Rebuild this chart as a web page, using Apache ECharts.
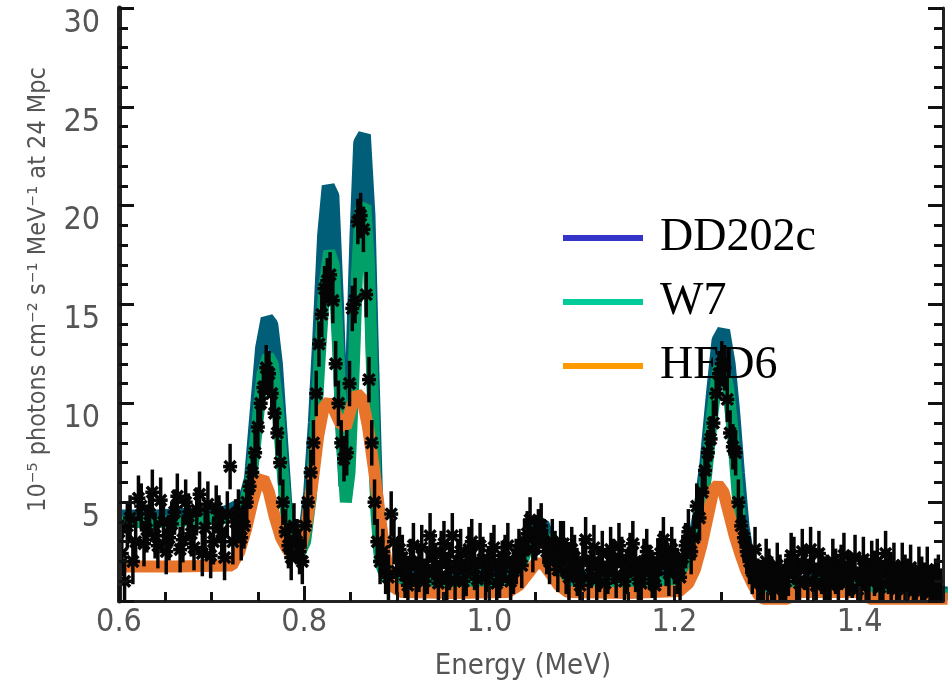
<!DOCTYPE html>
<html>
<head>
<meta charset="utf-8">
<script src="https://cdn.jsdelivr.net/npm/echarts@6/dist/echarts.min.js"></script>
<style>
  html, body { margin: 0; padding: 0; background: #fff; }
  #chart { width: 952px; height: 689px; }
</style>
</head>
<body>
<div id="chart"></div>
<script>
// model curves, [energy MeV, flux]
const dd202c = [
  [0.600, 4.3], [0.640, 4.3], [0.680, 4.4], [0.715, 4.5], [0.728, 4.8], [0.735, 5.0],
  [0.742, 6.2], [0.748, 9.5], [0.754, 12.8], [0.760, 14.3], [0.765, 14.0], [0.770, 12.0],
  [0.775, 8.5], [0.780, 5.0], [0.786, 3.2], [0.793, 2.6], [0.800, 3.2], [0.806, 5.5],
  [0.811, 9.0], [0.816, 13.5], [0.821, 18.5], [0.826, 21.0], [0.831, 20.5], [0.836, 15.0],
  [0.840, 9.5], [0.844, 5.8], [0.848, 7.0], [0.852, 12.5], [0.856, 18.5], [0.860, 23.2],
  [0.865, 23.6], [0.870, 19.5], [0.874, 12.0], [0.878, 5.5], [0.882, 2.5], [0.888, 1.5],
  [0.900, 1.2], [0.950, 1.2], [1.000, 1.3], [1.025, 1.4], [1.035, 2.2], [1.042, 3.2],
  [1.050, 3.9], [1.058, 3.9], [1.065, 3.0], [1.072, 1.8], [1.080, 1.3], [1.120, 1.2],
  [1.170, 1.2], [1.200, 1.3], [1.212, 1.8], [1.220, 2.8], [1.227, 4.5], [1.234, 7.0],
  [1.241, 10.5], [1.247, 13.2], [1.253, 13.7], [1.259, 12.0], [1.264, 9.5], [1.269, 6.5],
  [1.274, 3.8], [1.280, 2.0], [1.288, 1.0], [1.300, 0.6], [1.320, 0.6], [1.335, 0.9],
  [1.350, 1.1], [1.370, 1.2], [1.390, 1.1], [1.405, 0.7], [1.420, 0.5], [1.495, 0.4]
]

const w7 = [
  [0.600, 4.0], [0.640, 4.0], [0.680, 4.1], [0.715, 4.2], [0.728, 4.5], [0.736, 5.0],
  [0.743, 6.2], [0.749, 8.8], [0.755, 11.5], [0.761, 12.4], [0.766, 12.0], [0.771, 10.0],
  [0.776, 7.0], [0.781, 4.2], [0.787, 2.8], [0.794, 2.3], [0.801, 3.0], [0.807, 5.2],
  [0.812, 8.5], [0.817, 12.5], [0.822, 16.0], [0.827, 17.7], [0.832, 17.0], [0.837, 12.5],
  [0.841, 8.0], [0.845, 5.0], [0.849, 6.5], [0.853, 11.0], [0.857, 16.5], [0.861, 19.8],
  [0.866, 20.0], [0.870, 17.0], [0.874, 10.5], [0.878, 4.5], [0.882, 2.0], [0.888, 1.2],
  [0.900, 0.9], [0.950, 0.9], [1.000, 1.0], [1.025, 1.1], [1.035, 1.9], [1.042, 2.8],
  [1.050, 3.4], [1.058, 3.4], [1.065, 2.6], [1.072, 1.5], [1.080, 1.0], [1.120, 0.9],
  [1.170, 0.9], [1.200, 1.0], [1.212, 1.5], [1.220, 2.5], [1.227, 4.0], [1.234, 6.3],
  [1.241, 9.5], [1.247, 11.7], [1.252, 12.0], [1.258, 10.8], [1.263, 8.5], [1.268, 5.5],
  [1.273, 3.0], [1.279, 1.5], [1.287, 0.8], [1.300, 0.5], [1.320, 0.5], [1.335, 0.7],
  [1.350, 0.9], [1.370, 1.0], [1.390, 0.9], [1.405, 0.6], [1.420, 0.4], [1.495, 0.3]
]

const hed6 = [
  [0.600, 1.75], [0.660, 1.75], [0.722, 1.8], [0.730, 2.5], [0.737, 3.6], [0.744, 5.0],
  [0.750, 6.0], [0.756, 6.2], [0.762, 5.5], [0.768, 4.3], [0.775, 3.2], [0.782, 2.6],
  [0.790, 2.4], [0.797, 2.8], [0.803, 4.0], [0.809, 6.0], [0.815, 8.3], [0.821, 9.8],
  [0.827, 10.1], [0.833, 9.6], [0.839, 9.0], [0.845, 8.8], [0.851, 9.8], [0.857, 10.5],
  [0.863, 10.2], [0.869, 8.8], [0.875, 6.8], [0.881, 4.6], [0.886, 2.8], [0.891, 1.4],
  [0.897, 0.7], [0.905, 0.45], [0.960, 0.4], [1.020, 0.45], [1.032, 0.8], [1.042, 1.4],
  [1.050, 1.9], [1.058, 1.9], [1.066, 1.4], [1.075, 0.8], [1.085, 0.45], [1.150, 0.4],
  [1.205, 0.5], [1.215, 0.9], [1.222, 1.6], [1.229, 2.8], [1.236, 4.3], [1.242, 5.6],
  [1.247, 5.9], [1.253, 5.5], [1.259, 4.4], [1.265, 3.3], [1.271, 2.4], [1.277, 1.6],
  [1.284, 0.9], [1.291, 0.3], [1.296, 0.12], [1.322, 0.12], [1.330, 0.45], [1.404, 0.45],
  [1.411, 0.12], [1.495, 0.12]
]

// measured points (black stars with error bars)
const measured = [
  [0.600, 3.5], [0.603, 2.4], [0.606, 1.0], [0.609, 3.8], [0.612, 4.2], [0.615, 2.0],
  [0.618, 3.0], [0.621, 5.2], [0.624, 4.8], [0.627, 2.9], [0.630, 3.6], [0.633, 4.4],
  [0.636, 5.5], [0.639, 3.3], [0.642, 2.8], [0.645, 5.1], [0.648, 4.0], [0.651, 2.5],
  [0.654, 3.2], [0.657, 3.9], [0.660, 4.5], [0.663, 5.3], [0.666, 2.6], [0.669, 3.1],
  [0.672, 5.0], [0.675, 4.3], [0.678, 3.4], [0.681, 2.7], [0.684, 4.6], [0.687, 5.4],
  [0.690, 2.4], [0.693, 3.7], [0.696, 4.9], [0.699, 2.3], [0.702, 3.0], [0.705, 4.7],
  [0.708, 4.2], [0.711, 3.5], [0.714, 2.2], [0.717, 4.4], [0.720, 6.8], [0.723, 3.0],
  [0.726, 4.0], [0.729, 4.5], [0.732, 3.2], [0.735, 3.8], [0.738, 5.0], [0.741, 5.8],
  [0.744, 6.5], [0.747, 7.5], [0.750, 8.8], [0.753, 10.0], [0.756, 10.8], [0.759, 11.8],
  [0.762, 11.5], [0.765, 10.5], [0.768, 9.5], [0.771, 8.5], [0.774, 7.0], [0.777, 5.0],
  [0.780, 3.5], [0.783, 2.8], [0.786, 2.2], [0.789, 3.8], [0.792, 3.0], [0.795, 2.5],
  [0.798, 2.0], [0.801, 3.8], [0.804, 5.0], [0.807, 6.5], [0.810, 8.0], [0.813, 10.5],
  [0.816, 13.0], [0.819, 14.5], [0.822, 15.8], [0.825, 16.2], [0.828, 16.5], [0.831, 15.2],
  [0.834, 12.0], [0.837, 10.0], [0.840, 8.0], [0.843, 7.2], [0.846, 7.5], [0.849, 11.0],
  [0.852, 14.8], [0.855, 15.2], [0.858, 19.2], [0.861, 19.5], [0.864, 18.8], [0.867, 15.5],
  [0.870, 11.2], [0.873, 8.0], [0.876, 5.0], [0.879, 3.0], [0.882, 2.0], [0.885, 2.5],
  [0.888, 1.5], [0.891, 1.2], [0.894, 4.4], [0.897, 3.0], [0.900, 1.5], [0.903, 2.6],
  [0.906, 2.2], [0.909, 1.3], [0.912, 0.8], [0.915, 2.0], [0.918, 2.8], [0.921, 1.1],
  [0.924, 1.6], [0.927, 2.7], [0.930, 1.0], [0.933, 1.5], [0.936, 3.3], [0.939, 2.2],
  [0.942, 1.8], [0.945, 0.9], [0.948, 2.4], [0.951, 2.9], [0.954, 1.2], [0.957, 1.7],
  [0.960, 3.3], [0.963, 1.0], [0.966, 2.0], [0.969, 2.5], [0.972, 1.0], [0.975, 1.4],
  [0.978, 2.6], [0.981, 3.0], [0.984, 1.7], [0.987, 1.1], [0.990, 2.8], [0.993, 2.1],
  [0.996, 1.2], [0.999, 1.6], [1.002, 2.3], [1.005, 2.7], [1.008, 0.9], [1.011, 1.3],
  [1.014, 1.9], [1.017, 2.2], [1.020, 2.8], [1.023, 1.0], [1.026, 1.5], [1.029, 2.0],
  [1.032, 2.5], [1.035, 1.8], [1.038, 3.0], [1.041, 3.4], [1.044, 4.1], [1.047, 2.6],
  [1.050, 3.2], [1.053, 3.5], [1.056, 3.8], [1.059, 3.0], [1.062, 2.5], [1.065, 2.0],
  [1.068, 3.0], [1.071, 2.4], [1.074, 1.6], [1.077, 2.9], [1.080, 2.9], [1.083, 1.5],
  [1.086, 1.2], [1.089, 2.6], [1.092, 2.2], [1.095, 1.4], [1.098, 0.8], [1.101, 2.0],
  [1.104, 3.1], [1.107, 1.2], [1.110, 1.8], [1.113, 2.7], [1.116, 1.1], [1.119, 1.6],
  [1.122, 2.4], [1.125, 0.9], [1.128, 1.5], [1.131, 2.6], [1.134, 2.0], [1.137, 1.3],
  [1.140, 2.8], [1.143, 2.1], [1.146, 1.0], [1.149, 1.5], [1.152, 2.3], [1.155, 2.9],
  [1.158, 1.6], [1.161, 1.1], [1.164, 0.9], [1.167, 2.0], [1.170, 2.5], [1.173, 1.7],
  [1.176, 1.3], [1.179, 0.8], [1.182, 2.0], [1.185, 2.4], [1.188, 3.1], [1.191, 1.9],
  [1.194, 1.4], [1.197, 2.6], [1.200, 2.0], [1.203, 1.5], [1.206, 1.2], [1.209, 2.2],
  [1.212, 2.8], [1.215, 3.5], [1.218, 2.5], [1.221, 3.2], [1.224, 4.8], [1.227, 4.2],
  [1.230, 5.5], [1.233, 6.6], [1.236, 7.5], [1.239, 8.2], [1.242, 9.0], [1.245, 10.5],
  [1.248, 11.5], [1.251, 12.0], [1.254, 11.8], [1.257, 10.2], [1.260, 8.5], [1.263, 7.8],
  [1.266, 7.5], [1.269, 5.0], [1.272, 3.8], [1.275, 3.2], [1.278, 2.5], [1.281, 2.0],
  [1.284, 1.5], [1.287, 2.6], [1.290, 1.0], [1.293, 0.9], [1.296, 0.8], [1.299, 2.0],
  [1.302, 1.5], [1.305, 1.1], [1.308, 0.6], [1.311, 1.8], [1.314, 1.2], [1.317, 0.7],
  [1.320, 1.0], [1.323, 1.4], [1.326, 2.3], [1.329, 2.1], [1.332, 1.2], [1.335, 0.9],
  [1.338, 2.5], [1.341, 1.7], [1.344, 1.0], [1.347, 2.6], [1.350, 1.6], [1.353, 0.8],
  [1.356, 2.4], [1.359, 1.5], [1.362, 1.1], [1.365, 1.2], [1.368, 0.8], [1.371, 2.0],
  [1.374, 1.5], [1.377, 1.0], [1.380, 1.7], [1.383, 2.3], [1.386, 0.9], [1.389, 1.4],
  [1.392, 1.3], [1.395, 2.2], [1.398, 0.6], [1.401, 0.8], [1.404, 2.1], [1.407, 1.2],
  [1.410, 1.0], [1.413, 1.9], [1.416, 1.4], [1.419, 2.0], [1.422, 0.7], [1.425, 0.9],
  [1.428, 2.4], [1.431, 1.5], [1.434, 1.2], [1.437, 1.8], [1.440, 0.6], [1.443, 0.7],
  [1.446, 1.8], [1.449, 1.2], [1.452, 1.0], [1.455, 1.7], [1.458, 0.5], [1.461, 0.6],
  [1.464, 1.6], [1.467, 1.1], [1.470, 0.8], [1.473, 1.6], [1.476, 0.4], [1.479, 0.7],
  [1.482, 1.0], [1.485, 1.2], [1.488, 0.5]
]
const errorHalf = 1.15

const seriesNames = ['DD202c', 'W7', 'HED6']
const bandColors = ['#005e78', '#00a068', '#e8742c']
const legendColors = ['#3434c8', '#00cc99', '#ff9900']

const axisFont = '"Liberation Sans Narrow", "DejaVu Sans Condensed", sans-serif'
const axisColor = '#555'
const frameColor = '#222'

const chart = echarts.init(document.getElementById('chart'))

// star marker with vertical error bar
const renderStar = (params, api) => {
  const x = api.value(0)
  const y = api.value(1)
  const c = api.coord([x, y])
  const top = api.coord([x, y + errorHalf])[1]
  const bot = api.coord([x, y - errorHalf])[1]
  const style = { stroke: '#050505', lineWidth: 3.5 }
  const s = 5.5
  const h = 7
  return {
    type: 'group',
    children: [
      { type: 'line', shape: { x1: c[0], y1: top, x2: c[0], y2: bot }, style },
      { type: 'line', shape: { x1: c[0] - h, y1: c[1], x2: c[0] + h, y2: c[1] }, style },
      { type: 'line', shape: { x1: c[0] - s, y1: c[1] - s, x2: c[0] + s, y2: c[1] + s }, style },
      { type: 'line', shape: { x1: c[0] - s, y1: c[1] + s, x2: c[0] + s, y2: c[1] - s }, style }
    ]
  }
}

const tickCommon = {
  axisTick: { show: true, inside: true, length: 15, lineStyle: { color: '#111', width: 3 } },
  splitLine: { show: false }
}

const option = {
  animation: false,
  backgroundColor: '#fff',
  grid: { left: 119, right: 9, top: 8, bottom: 88, show: false },
  legend: {
    orient: 'vertical',
    left: 558,
    top: 196,
    icon: 'rect',
    itemWidth: 80,
    itemHeight: 6,
    itemGap: -10,
    selectedMode: false,
    textStyle: {
      fontFamily: '"Liberation Serif", "DejaVu Serif", serif',
      fontSize: 46,
      lineHeight: 46,
      color: '#000',
      padding: [0, 0, 28, 12]
    },
    data: seriesNames.map((n, i) => ({ name: n, itemStyle: { color: legendColors[i] } }))
  },
  xAxis: [
    {
      type: 'value',
      min: 0.6,
      max: 1.49,
      interval: 0.2,
      z: 10,
      ...tickCommon,
      minorTick: { show: true, splitNumber: 4, length: 9, lineStyle: { color: '#111', width: 3 } },
      axisLine: { show: true, lineStyle: { color: frameColor, width: 3 } },
      axisLabel: {
        showMaxLabel: false,
        margin: 8,
        fontFamily: axisFont,
        fontSize: 32,
        lineHeight: 28,
        color: axisColor,
        formatter: v => v.toFixed(1)
      },
      name: 'Energy (MeV)',
      nameLocation: 'middle',
      nameGap: 50,
      nameTextStyle: { fontFamily: axisFont, fontSize: 29, lineHeight: 30, color: axisColor, padding: [0, 16, 0, 0] }
    },
    {
      type: 'value',
      position: 'top',
      min: 0.6,
      max: 1.49,
      z: 10,
      axisTick: { show: false },
      axisLabel: { show: false },
      splitLine: { show: false },
      axisLine: { show: true, lineStyle: { color: frameColor, width: 3 } }
    }
  ],
  yAxis: [
    {
      type: 'value',
      min: 0,
      max: 30,
      interval: 5,
      z: 10,
      ...tickCommon,
      minorTick: { show: true, splitNumber: 5, length: 9, lineStyle: { color: '#111', width: 3 } },
      axisLine: { show: true, lineStyle: { color: frameColor, width: 5 } },
      axisLabel: {
        showMinLabel: false,
        margin: 19,
        fontFamily: axisFont,
        fontSize: 32,
        lineHeight: 31,
        verticalAlign: 'top',
        color: axisColor
      },
      name: '10\u207b\u2075 photons cm\u207b\u00b2 s\u207b\u00b9 MeV\u207b\u00b9 at 24 Mpc',
      nameLocation: 'middle',
      nameGap: 68,
      nameTextStyle: { fontFamily: axisFont, fontSize: 25, color: axisColor, padding: [0, 0, 0, 30] }
    },
    {
      type: 'value',
      position: 'right',
      min: 0,
      max: 30,
      interval: 5,
      z: 10,
      ...tickCommon,
      minorTick: { show: true, splitNumber: 5, length: 9, lineStyle: { color: '#111', width: 3 } },
      axisLine: { show: true, lineStyle: { color: frameColor, width: 3 } },
      axisLabel: { show: false }
    }
  ],
  series: [
    ...[dd202c, w7, hed6].map((d, i) => ({
      name: seriesNames[i],
      type: 'line',
      data: d,
      showSymbol: false,
      symbol: 'none',
      clip: false,
      z: 2 + i,
      lineStyle: { width: i === 0 ? 13 : 12, color: bandColors[i] },
      itemStyle: { color: bandColors[i] }
    })),
    {
      name: 'data',
      type: 'custom',
      data: measured,
      clip: true,
      z: 6,
      renderItem: renderStar
    }
  ]
}

chart.setOption(option)
window.addEventListener('resize', () => chart.resize())
</script>
</body>
</html>
